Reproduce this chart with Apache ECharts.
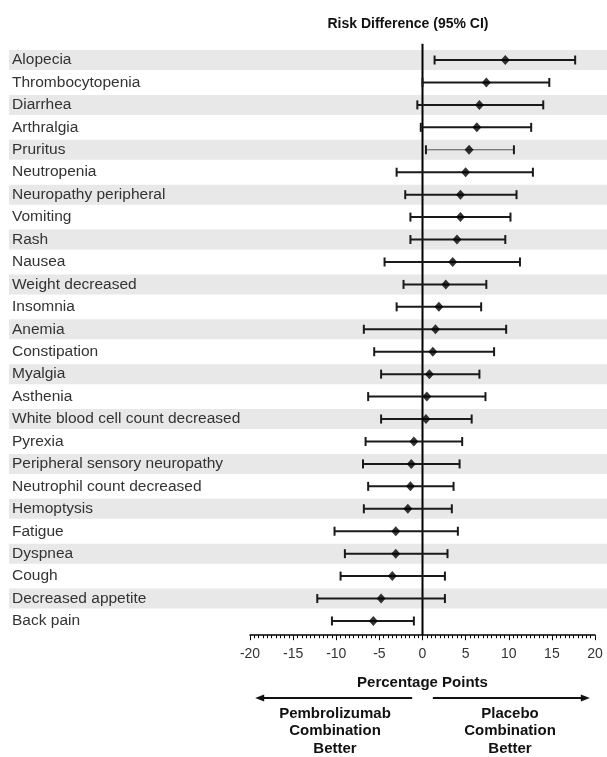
<!DOCTYPE html>
<html>
<head>
<meta charset="utf-8">
<script src="https://cdn.jsdelivr.net/npm/echarts@6/dist/echarts.min.js"></script>
<style>
html,body{margin:0;padding:0;background:#fff;}
#chart{width:607px;height:757px;}
</style>
</head>
<body>
<div id="chart"></div>
<script>
const categories = ['Alopecia','Thrombocytopenia','Diarrhea','Arthralgia','Pruritus','Neutropenia','Neuropathy peripheral','Vomiting','Rash','Nausea','Weight decreased','Insomnia','Anemia','Constipation','Myalgia','Asthenia','White blood cell count decreased','Pyrexia','Peripheral sensory neuropathy','Neutrophil count decreased','Hemoptysis','Fatigue','Dyspnea','Cough','Decreased appetite','Back pain'];
const estimates = [9.6, 7.4, 6.6, 6.3, 5.4, 5.0, 4.4, 4.4, 4.0, 3.5, 2.7, 1.9, 1.5, 1.2, 0.8, 0.5, 0.4, -1.0, -1.3, -1.4, -1.7, -3.1, -3.1, -3.5, -4.8, -5.7];
const lowerCI = [1.4, 0.0, -0.6, -0.2, 0.4, -3.0, -2.0, -1.4, -1.4, -4.4, -2.2, -3.0, -6.8, -5.6, -4.8, -6.3, -4.8, -6.6, -6.9, -6.3, -6.8, -10.2, -9.0, -9.5, -12.2, -10.5];
const upperCI = [17.7, 14.7, 14.0, 12.6, 10.6, 12.8, 10.9, 10.2, 9.6, 11.3, 7.4, 6.8, 9.7, 8.3, 6.6, 7.3, 5.7, 4.6, 4.3, 3.6, 3.4, 4.1, 2.9, 2.6, 2.6, -1.0];
const xMin = -20, xMax = 20, xStep = 5;
const titleText = 'Risk Difference (95% CI)';
const xAxisName = 'Percentage Points';
const leftNote = 'Pembrolizumab\nCombination\nBetter';
const rightNote = 'Placebo\nCombination\nBetter';

const FONT = "'Liberation Sans', Arial, Helvetica, sans-serif";
const thinRows = ['Pruritus'];

const chart = echarts.init(document.getElementById('chart'), null, {renderer: 'canvas'});

const stripeData = categories.map((c, i) => [0, i]).filter((d, i) => i % 2 === 0);
const ciData = categories.map((c, i) => [i, lowerCI[i], upperCI[i]]);
const pointData = categories.map((c, i) => [estimates[i], i]);

const option = {
  animation: false,
  backgroundColor: '#fff',
  title: {
    text: titleText,
    left: 403, top: 12, textAlign: 'center',
    textStyle: {fontFamily: FONT, fontSize: 14, fontWeight: 'bold', color: '#111'}
  },
  grid: {left: 250, right: 12, top: 48.8, height: 583.4, containLabel: false},
  xAxis: {
    type: 'value', min: xMin, max: xMax, interval: xStep,
    offset: 3, z: 4,
    axisLine: {show: true, onZero: false, lineStyle: {color: '#000', width: 1.5}},
    axisTick: {show: true, length: 5, lineStyle: {color: '#000', width: 1}},
    minorTick: {show: true, splitNumber: 10, length: 3, lineStyle: {color: '#000', width: 1}},
    splitLine: {show: false},
    axisLabel: {fontFamily: FONT, fontSize: 14, color: '#333', margin: 12},
    name: xAxisName, nameLocation: 'middle', nameGap: 40,
    nameTextStyle: {fontFamily: FONT, fontSize: 15, fontWeight: 'bold', color: '#111'}
  },
  yAxis: {
    type: 'category', data: categories, inverse: true, z: 3,
    axisLine: {show: false}, axisTick: {show: false}, splitLine: {show: false},
    axisLabel: {align: 'left', margin: 238, fontFamily: FONT, fontSize: 15.5, color: '#333',
                verticalAlign: 'middle', padding: [3, 0, 0, 0]}
  },
  series: [
    {
      type: 'custom', z: 1, silent: true, clip: false,
      data: stripeData,
      encode: {x: 0, y: 1},
      renderItem: function (params, api) {
        const y = api.coord([0, api.value(1)])[1];
        return {type: 'rect', shape: {x: 9, y: y - 10, width: 598, height: 20}, style: {fill: '#e8e8e8'}};
      }
    },
    {
      type: 'custom', z: 5, silent: true, clip: false,
      data: [[0]],
      encode: {x: 0},
      renderItem: function (params, api) {
        const cs = params.coordSys;
        const x = api.coord([api.value(0), 0])[0];
        return {type: 'line', shape: {x1: x, y1: cs.y - 5, x2: x, y2: cs.y + cs.height + 3},
                style: {stroke: '#000', lineWidth: 2}};
      }
    },
    {
      type: 'custom', z: 6, silent: true, clip: false,
      data: ciData,
      encode: {y: 0, x: [1, 2]},
      renderItem: function (params, api) {
        const idx = api.value(0);
        const lo = api.coord([api.value(1), idx]);
        const hi = api.coord([api.value(2), idx]);
        const thin = thinRows.indexOf(categories[idx]) >= 0;
        const st = {stroke: thin ? '#555' : '#1a1a1a', lineWidth: thin ? 1 : 2};
        const cst = {stroke: '#1a1a1a', lineWidth: 2};
        const h = 4.5;
        return {type: 'group', children: [
          {type: 'line', shape: {x1: lo[0], y1: lo[1], x2: hi[0], y2: hi[1]}, style: st},
          {type: 'line', shape: {x1: lo[0], y1: lo[1] - h, x2: lo[0], y2: lo[1] + h}, style: cst},
          {type: 'line', shape: {x1: hi[0], y1: hi[1] - h, x2: hi[0], y2: hi[1] + h}, style: cst}
        ]};
      }
    },
    {
      type: 'scatter', z: 7, silent: true,
      data: pointData,
      symbol: 'diamond', symbolSize: [9, 10],
      itemStyle: {color: '#000'}
    }
  ]
};
chart.setOption(option);

// Direction notes under the axis, positioned from the axis scale
const yArrow = 698;
const xl0 = chart.convertToPixel({xAxisIndex: 0}, -19.4);
const xl1 = chart.convertToPixel({xAxisIndex: 0}, -1.2);
const xr0 = chart.convertToPixel({xAxisIndex: 0}, 1.2);
const xr1 = chart.convertToPixel({xAxisIndex: 0}, 19.4);
const noteStyle = {fontFamily: FONT, fontSize: 15, fontWeight: 'bold', fill: '#111', align: 'center', verticalAlign: 'top', lineHeight: 17.5};
chart.setOption({
  graphic: [
    {type: 'line', shape: {x1: xl0 + 6, y1: yArrow, x2: xl1, y2: yArrow}, style: {stroke: '#111', lineWidth: 2}},
    {type: 'polygon', shape: {points: [[xl0, yArrow], [xl0 + 9, yArrow - 3.5], [xl0 + 9, yArrow + 3.5]]}, style: {fill: '#111'}},
    {type: 'line', shape: {x1: xr0, y1: yArrow, x2: xr1 - 6, y2: yArrow}, style: {stroke: '#111', lineWidth: 2}},
    {type: 'polygon', shape: {points: [[xr1, yArrow], [xr1 - 9, yArrow - 3.5], [xr1 - 9, yArrow + 3.5]]}, style: {fill: '#111'}},
    {type: 'text', x: 335, y: 705, style: Object.assign({text: leftNote}, noteStyle)},
    {type: 'text', x: 510, y: 705, style: Object.assign({text: rightNote}, noteStyle)}
  ]
});
</script>
</body>
</html>
